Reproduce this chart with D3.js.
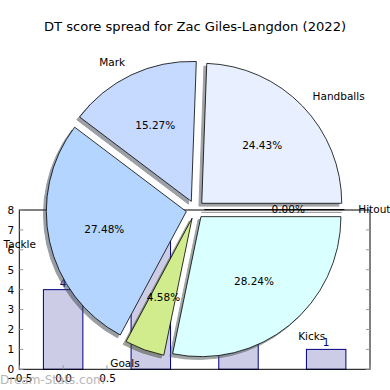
<!DOCTYPE html>
<html><head><meta charset="utf-8">
<script src="https://cdn.jsdelivr.net/npm/d3@7"></script>
<style>body{margin:0;background:#fff}svg{display:block}text{font-family:"DejaVu Sans",sans-serif}</style>
</head><body>
<svg id="c" width="390" height="390"></svg>
<script>
// ---- data ----
const title = "DT score spread for Zac Giles-Langdon (2022)";
const pieLabels = ["Hitout", "Handballs", "Mark", "Tackle", "Goals", "Kicks"];
const pieValues = [0.00, 24.43, 15.27, 27.48, 4.58, 28.24];
const pieColors = ["#e6e6ff", "#e8f0ff", "#c6d9ff", "#b3d5ff", "#d0ec8c", "#d9ffff"];
const barX = [0, 1, 2, 3];
const barValues = [4, 7, 3, 1];
const yTicks = [0, 1, 2, 3, 4, 5, 6, 7, 8];
const xTicks = [-0.5, 0.0, 0.5];
const xTickLabels = ["\u22120.5", "0.0", "0.5"];

const svg = d3.select("#c");
const fs = 10.5;

// ---- background bar chart ----
const x = d3.scaleLinear().domain([-0.5, 3.5]).range([19.3, 370]);
const y = d3.scaleLinear().domain([0, 8]).range([369.3, 210]);
const bw = 0.45;
const gb = svg.append("g");
gb.selectAll("rect.bar").data(barX).enter().append("rect")
  .attr("x", d => x(d - bw / 2)).attr("width", d => x(d + bw / 2) - x(d - bw / 2))
  .attr("y", (d, i) => y(barValues[i])).attr("height", (d, i) => y(0) - y(barValues[i]))
  .attr("fill", "#ccccE6").attr("stroke", "#000080").attr("stroke-width", 1);
gb.selectAll("text.bl").data(barX).enter().append("text")
  .attr("x", d => x(d)).attr("y", (d, i) => y(barValues[i]) - 3)
  .attr("text-anchor", "middle").attr("font-size", fs).attr("fill", "#000080")
  .text((d, i) => barValues[i]);
// axes frame
gb.append("rect").attr("x", x(-0.5)).attr("y", y(8)).attr("width", x(3.5) - x(-0.5)).attr("height", y(0) - y(8))
  .attr("fill", "none").attr("stroke", "#000").attr("stroke-width", 1);
const yAxisL = d3.axisLeft(y).tickValues(yTicks).tickSize(0).tickPadding(5);
gb.append("g").attr("transform", `translate(${x(-0.5)},0)`).call(yAxisL)
  .call(g => g.select(".domain").remove())
  .call(g => g.selectAll("text").attr("font-size", fs).attr("font-family", "DejaVu Sans").attr("fill", "#000"));
const tickC = "#999";
gb.selectAll("line.tl").data(yTicks).enter().append("line")
  .attr("x1", x(-0.5)).attr("x2", x(-0.5) + 4).attr("y1", d => y(d)).attr("y2", d => y(d)).attr("stroke", tickC);
gb.selectAll("line.tr").data(yTicks).enter().append("line")
  .attr("x1", x(3.5)).attr("x2", x(3.5) - 4).attr("y1", d => y(d)).attr("y2", d => y(d)).attr("stroke", tickC);
const xAxisB = d3.axisBottom(x).tickValues(xTicks).tickFormat((d, i) => xTickLabels[i]).tickSize(0).tickPadding(5);
gb.append("g").attr("transform", `translate(0,${y(0)})`).call(xAxisB)
  .call(g => g.select(".domain").remove())
  .call(g => g.selectAll("text").attr("font-size", fs).attr("font-family", "DejaVu Sans").attr("fill", "#000"));
gb.selectAll("line.tb").data(xTicks.concat([3.5])).enter().append("line")
  .attr("x1", d => x(d)).attr("x2", d => x(d)).attr("y1", y(0)).attr("y2", y(0) - 4).attr("stroke", tickC);

// ---- pie ----
const cx = 195.2, cy = 209.6, R = 140, explode = 0.065;
const pie = d3.pie().sort(null).value(d => d).startAngle(Math.PI / 2).endAngle(Math.PI / 2 - 2 * Math.PI);
const arcs = pie(pieValues);
const arc = d3.arc().innerRadius(0).outerRadius(R);
const gp = svg.append("g").attr("transform", `translate(${cx},${cy})`);
function off(a, k) { const m = (a.startAngle + a.endAngle) / 2; return [Math.sin(m) * k, -Math.cos(m) * k]; }
const sh = 0.02 * R;
// shadows
gp.selectAll("path.sh").data(arcs).enter().append("path")
  .attr("d", arc)
  .attr("transform", d => { const o = off(d, explode * R); return `translate(${o[0] - sh},${o[1] + sh})`; })
  .attr("fill", (d, i) => { const c = d3.rgb(pieColors[i]); return d3.rgb(c.r * 0.3, c.g * 0.3, c.b * 0.3); })
  .attr("stroke", (d, i) => { const c = d3.rgb(pieColors[i]); return d3.rgb(c.r * 0.3, c.g * 0.3, c.b * 0.3); })
  .attr("opacity", 0.5).attr("stroke-width", 1);
// wedges
gp.selectAll("path.w").data(arcs).enter().append("path")
  .attr("d", arc)
  .attr("transform", d => { const o = off(d, explode * R); return `translate(${o[0]},${o[1]})`; })
  .attr("fill", (d, i) => pieColors[i]).attr("stroke", "#000").attr("stroke-width", 0.8);
// labels
gp.selectAll("text.lab").data(arcs).enter().append("text")
  .attr("x", d => off(d, explode * R + 1.1 * R)[0])
  .attr("y", d => off(d, explode * R + 1.1 * R)[1])
  .attr("dy", "0.35em")
  .attr("text-anchor", d => off(d, 1)[0] > 0 ? "start" : "end")
  .attr("font-size", fs).attr("fill", "#000")
  .text((d, i) => pieLabels[i]);
gp.selectAll("text.pct").data(arcs).enter().append("text")
  .attr("x", d => off(d, explode * R + 0.6 * R)[0])
  .attr("y", d => off(d, explode * R + 0.6 * R)[1])
  .attr("dy", "0.35em").attr("text-anchor", "middle")
  .attr("font-size", fs).attr("fill", "#000")
  .text(d => d.value.toFixed(2) + "%");

// title & watermark
svg.append("text").attr("x", 195).attr("y", 26).attr("dy", "0.35em").attr("text-anchor", "middle")
  .attr("font-size", 13.1).attr("fill", "#000").text(title);
svg.append("text").attr("x", 0).attr("y", 380).attr("dy", "0.35em")
  .attr("font-size", 12).attr("fill", "#999").attr("opacity", 0.7).text("Dream-Stats.com");
</script>
</body></html>
